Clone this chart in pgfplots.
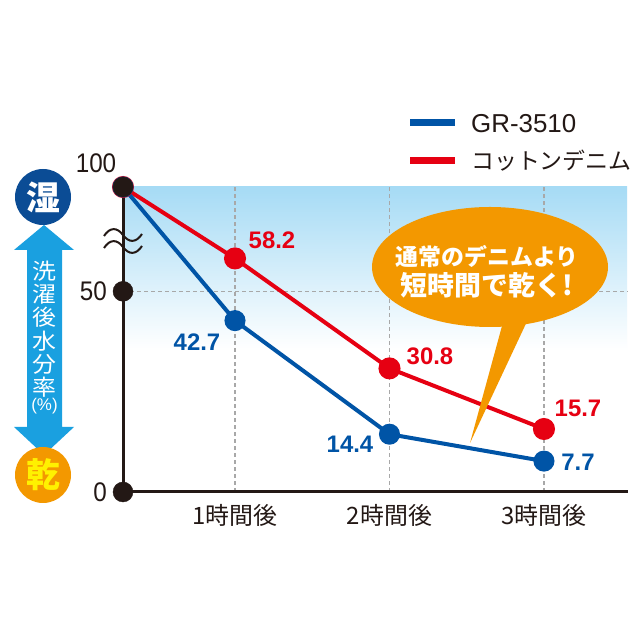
\documentclass[border=0pt]{standalone}
\usepackage{fontspec}
\usepackage{pgfplots}
\pgfplotsset{compat=1.18}
\setmainfont{Noto Sans CJK JP}
\newfontfamily\num[FakeStretch=0.9]{Liberation Sans}
\newfontfamily\lat{Liberation Sans}
\definecolor{gblue}{HTML}{0054A6}
\definecolor{cred}{HTML}{E60012}
\definecolor{axblack}{HTML}{231815}
\definecolor{bgblue}{HTML}{A6DBF5}
\definecolor{gridgray}{HTML}{A8A8A8}
\definecolor{dblue}{HTML}{0B4C95}
\definecolor{corange}{HTML}{F39800}
\definecolor{ccyan}{HTML}{1AA0E0}
\definecolor{cyellow}{HTML}{FFF100}
\begin{document}
\begin{tikzpicture}[x=1bp,y=1bp]
\path[use as bounding box] (0,0) rectangle (640,640);
\fill[white] (0,0) rectangle (640,640);
% background gradient of plot area
\shade[top color=bgblue, bottom color=white] (123,290) rectangle (627,453);
\begin{axis}[
  at={(123bp,148bp)}, anchor=south west,
  scale only axis, width=505bp, height=305bp,
  xmin=0.275, xmax=3.544, ymin=0, ymax=76,
  clip=false,
  axis x line*=bottom, axis y line*=left,
  axis line style={line width=3bp, color=axblack},
  xtick={1,2,3},
  xticklabels={{1時間後},{2時間後},{3時間後}},
  ytick={0,50}, yticklabels={0,50},
  major tick length=0,
  grid=major,
  grid style={gridgray, dash pattern=on 4bp off 3bp, line width=1.2bp},
  xticklabel style={font=\fontsize{24}{28}\selectfont, text=axblack, anchor=north, inner sep=0pt, yshift=-12bp},
  yticklabel style={font=\fontsize{27}{30}\selectfont\num, text=axblack, anchor=east, inner sep=0pt, xshift=-16bp},
]
\addplot[cred, line width=4bp, mark=*, mark size=9bp, mark options={fill=cred, draw=cred}]
  coordinates {(0.275,76) (1,58.2) (2,30.8) (3,15.7)};
\addplot[gblue, line width=4bp, mark=*, mark size=8.5bp, mark options={fill=gblue, draw=gblue}]
  coordinates {(0.275,76) (1,42.7) (2,14.4) (3,7.7)};
\addplot[only marks, mark=*, mark size=10bp, color=axblack, mark options={fill=axblack}]
  coordinates {(0.275,0) (0.275,50) (0.275,76)};
\end{axis}
% axis break waves
\draw[axblack, line width=2bp] (104,404) .. controls (110,413) and (117,413) .. (123,405) .. controls (129,397) and (136,397) .. (142,406);
\draw[axblack, line width=2bp] (104,392) .. controls (110,401) and (117,401) .. (123,393) .. controls (129,385) and (136,385) .. (142,394);
% top tick label
\node[font=\fontsize{27}{30}\selectfont\num, text=axblack] at (96,477) {100};
% data labels
\begin{scope}[font=\fontsize{24}{28}\selectfont\lat\bfseries]
\node[text=cred] at (272,400) {58.2};
\node[text=gblue] at (197,298) {42.7};
\node[text=cred] at (430,284) {30.8};
\node[text=gblue] at (350,196) {14.4};
\node[text=cred] at (578,232) {15.7};
\node[text=gblue] at (578,178) {7.7};
\end{scope}
% legend
\draw[gblue, line width=7bp] (410,517) -- (455,517);
\draw[cred, line width=7bp] (410,479) -- (455,479);
\node[anchor=west, inner sep=0pt, font=\fontsize{26}{30}\selectfont\lat, text=axblack] at (471,516) {GR-3510};
\node[anchor=west, inner sep=0pt, font=\fontsize{23}{28}\selectfont, text=axblack] at (471,479) {コットンデニム};
% left scale arrow
\fill[ccyan] (44,415) -- (74,390) -- (62,390) -- (62,213) -- (74,213) -- (44,185) -- (14,213) -- (27,213) -- (27,390) -- (14,390) -- cycle;
\fill[dblue] (43,443) circle (28);
\node[text=white, font=\fontsize{34}{36}\selectfont\bfseries] at (43,443) {湿};
\fill[corange] (43,165) circle (28);
\node[text=cyellow, font=\fontsize{34}{36}\selectfont\bfseries] at (43,165) {乾};
\foreach \c [count=\i] in {洗,濯,後,水,分,率} {
  \node[text=white, font=\fontsize{24}{26}\selectfont, inner sep=0pt, yscale=0.92] at (44.5,{369-(\i-1)*23.3}) {\c};
}
\node[text=white, font=\fontsize{17}{20}\selectfont\lat, inner sep=0pt] at (44.5,234) {(\%)};
% callout
\fill[corange] (505,325) -- (530,325) -- (470,197) -- cycle;
\fill[corange] (490,373) ellipse [x radius=118, y radius=60];
\node[text=white, font=\fontsize{23}{26}\selectfont\bfseries] at (487,383) {通常のデニムより};
\node[text=white, font=\fontsize{27}{30}\selectfont\bfseries] at (487,355) {短時間で乾く!};
\end{tikzpicture}
\end{document}
